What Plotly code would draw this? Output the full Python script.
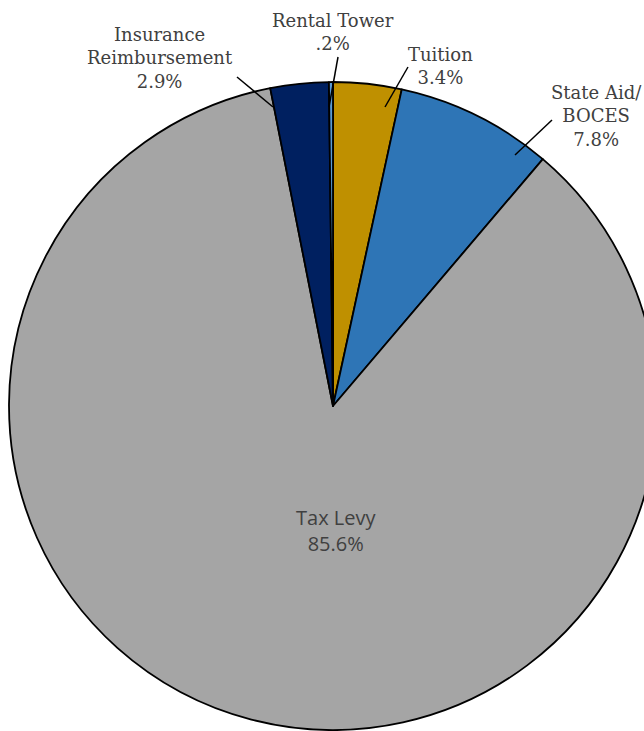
import plotly.graph_objects as go

# ---- data ----
labels = ["Tuition", "State Aid/<br>BOCES", "Tax Levy", "Insurance<br>Reimbursement", "Rental Tower"]
values = [3.4, 7.8, 85.6, 2.9, 0.2]
value_text = ["3.4%", "7.8%", "85.6%", "2.9%", ".2%"]
colors = ["#BF9000", "#2E75B6", "#A5A5A5", "#002060", "#5B9BD5"]

W, H = 666, 731

def px(x):
    return x / W

def py(y):
    return 1 - y / H

fig = go.Figure(go.Pie(
    labels=labels,
    values=values,
    sort=False,
    direction="clockwise",
    rotation=0,
    marker=dict(colors=colors, line=dict(color="#000000", width=1.8)),
    textinfo="none",
    hoverinfo="label+value",
    showlegend=False,
    domain=dict(x=[0, 1], y=[py(730), py(82)]),
))

serif = dict(family="DejaVu Serif", size=18, color="#404040")

# label positions (pixel space) and leader lines: (text_center, line_from, line_to)
label_layout = {
    "Tuition": ((440, 66), (408, 67), (385, 107)),
    "State Aid/<br>BOCES": ((596, 116), (552, 120), (515, 155)),
    "Insurance<br>Reimbursement": ((160, 58), (237, 77), (273, 107)),
    "Rental Tower": ((333, 32), (338, 57), (329, 107)),
}

annotations = []
shapes = []
for lab, val in zip(labels, value_text):
    if lab == "Tax Levy":
        annotations.append(dict(
            x=px(336), y=py(530), xref="paper", yref="paper",
            text=f"{lab}<br>{val}", showarrow=False,
            font=dict(family="Open Sans", size=20, color="#404040"),
            xanchor="center", yanchor="middle",
        ))
        continue
    (tx, ty), (x0, y0), (x1, y1) = label_layout[lab]
    annotations.append(dict(
        x=px(tx), y=py(ty), xref="paper", yref="paper",
        text=f"{lab}<br>{val}", showarrow=False, font=serif,
        xanchor="center", yanchor="middle",
    ))
    shapes.append(dict(
        type="line", xref="paper", yref="paper",
        x0=px(x0), y0=py(y0), x1=px(x1), y1=py(y1),
        line=dict(color="#000000", width=1.5),
    ))

fig.update_layout(
    width=W, height=H,
    margin=dict(l=0, r=0, t=0, b=0),
    paper_bgcolor="white",
    plot_bgcolor="white",
    annotations=annotations,
    shapes=shapes,
)

fig.write_html(
    "out.html",
    config={"displayModeBar": False},
    post_script="document.body.style.margin='0';document.body.style.overflow='hidden';document.documentElement.style.overflow='hidden';",
)
